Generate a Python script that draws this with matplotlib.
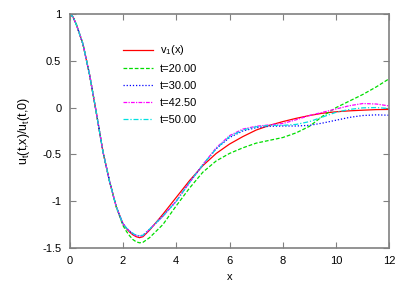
import matplotlib
matplotlib.use("Agg")
import matplotlib.pyplot as plt
from matplotlib.ticker import FuncFormatter

plt.rcParams['font.family'] = ['Liberation Sans', 'DejaVu Sans']
plt.rcParams['axes.unicode_minus'] = False
plt.rcParams['mathtext.default'] = 'regular'

# values
x = [0, 0.125, 0.25, 0.5, 0.75, 1.0, 1.25, 1.5, 1.75, 2.0, 2.125, 2.25, 2.375,
     2.5, 2.625, 2.75, 3.0, 3.5, 4.0, 4.5, 5.0, 5.5, 6.0, 6.5, 7.0, 7.5, 8.0,
     8.5, 9.0, 9.5, 10.0, 10.5, 11.0, 11.5, 12.0]
head = [1.0, 0.97, 0.89, 0.68, 0.35, -0.05, -0.47, -0.79, -1.06]

v1 = head + [-1.24, -1.29, -1.33, -1.36, -1.38, -1.39, -1.38, -1.31,
             -1.14, -0.96, -0.78, -0.62, -0.49, -0.39, -0.31, -0.24, -0.19,
             -0.15, -0.115, -0.085, -0.06, -0.045, -0.035, -0.028, -0.022, -0.02]
t20 = head + [-1.26, -1.32, -1.37, -1.41, -1.435, -1.445, -1.44, -1.39,
              -1.25, -1.05, -0.86, -0.69, -0.57, -0.49, -0.43, -0.38, -0.35,
              -0.32, -0.27, -0.20, -0.09, 0.0, 0.07, 0.14, 0.22, 0.31]
t30 = head + [-1.24, -1.285, -1.32, -1.345, -1.365, -1.37, -1.365, -1.30,
              -1.16, -1.0, -0.80, -0.61, -0.44, -0.32, -0.25, -0.215, -0.20,
              -0.197, -0.197, -0.19, -0.165, -0.135, -0.105, -0.085, -0.078, -0.082]
t425 = head + [-1.24, -1.285, -1.32, -1.35, -1.37, -1.375, -1.37, -1.30,
               -1.16, -1.0, -0.80, -0.61, -0.43, -0.30, -0.23, -0.20, -0.185,
               -0.17, -0.13, -0.085, -0.05, -0.015, 0.02, 0.043, 0.038, 0.017]
t50 = head + [-1.24, -1.285, -1.32, -1.345, -1.365, -1.37, -1.365, -1.30,
              -1.16, -1.0, -0.80, -0.61, -0.44, -0.31, -0.24, -0.205, -0.19,
              -0.19, -0.18, -0.15, -0.10, -0.05, -0.02, -0.003, 0.0, -0.01]

series = [
    (v1, 'v$_1$(x)', '#ff0000', '-'),
    (t20, 't=20.00', '#00dd00', (0, (3, 1.5))),
    (t30, 't=30.00', '#0000ff', (0, (1, 1.5))),
    (t425, 't=42.50', '#ff00ff', (0, (3, 1, 1, 1))),
    (t50, 't=50.00', '#00e0e0', (0, (4, 1.5, 1, 1.5))),
]

fig = plt.figure(figsize=(4.07, 2.85), dpi=100)
ax = fig.add_axes([0.171, 0.130, 0.786, 0.821])

for ys, lab, col, ls in series:
    ax.plot(x, ys, color=col, linestyle=ls, linewidth=0.9, label=lab)

ax.set_xlim(0, 12)
ax.set_ylim(-1.5, 1)
ax.set_xticks([0, 2, 4, 6, 8, 10, 12])
ax.set_yticks([-1.5, -1, -0.5, 0, 0.5, 1])
ax.yaxis.set_major_formatter(FuncFormatter(lambda v, p: '%g' % v))
ax.tick_params(direction='in', top=True, right=True, length=4, width=0.8,
               color='#808080', labelsize=8, pad=6)

for sp in ax.spines.values():
    sp.set_color('#808080')
    sp.set_linewidth(1.2)

ax.set_xlabel('x', fontsize=8, labelpad=4)
ax.set_ylabel('u$_t$(t,x)/u$_t$(t,0)', fontsize=9, labelpad=7)

ax.legend(loc='upper left', bbox_to_anchor=(0.1525, 0.893), frameon=False,
          fontsize=8, handlelength=2.75, handletextpad=0.6, labelspacing=0.62,
          borderaxespad=0)

fig.savefig('out.png', dpi=100)
